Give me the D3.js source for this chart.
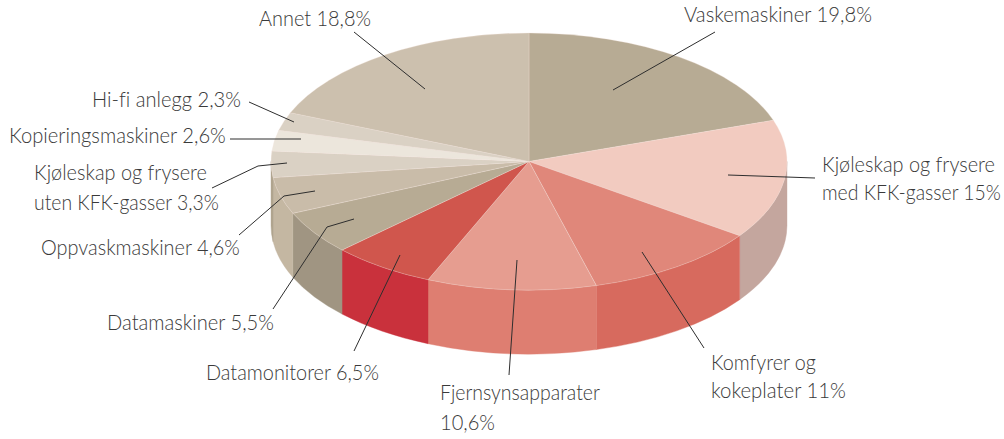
<!DOCTYPE html>
<html><head><meta charset="utf-8">
<script src="https://cdnjs.cloudflare.com/ajax/libs/d3/7.8.5/d3.min.js"></script>
<style>html,body{margin:0;padding:0;background:#fff}svg{display:block}
text{font-family:Lato,"Open Sans",sans-serif;font-weight:300;font-size:21.5px;fill:#3a3a3a;font-variant-ligatures:none}</style>
</head><body><svg id="c" width="1004" height="439"></svg>
<script>
const categories=["Vaskemaskiner","Kjøleskap og frysere med KFK-gasser","Komfyrer og kokeplater","Fjernsynsapparater","Datamonitorer","Datamaskiner","Oppvaskmaskiner","Kjøleskap og frysere uten KFK-gasser","Kopieringsmaskiner","Hi-fi anlegg","Annet"];
const values=[19.8,15,11,10.6,6.5,5.5,4.6,3.3,2.6,2.3,18.8];
const topColors=["#b7ab94","#f2cbc0","#e0877a","#e69d90","#d0564d","#b7ab94","#c9bca9","#dad1c4","#ece6dc","#dad1c4","#ccc0ae"];
const wallColors=["#a09582","#c4a69e","#d76a5e","#de7e71","#c9313c","#a09582","#c4b7a2","#b0a58f","#b0a58f","#b0a58f","#b0a58f"];
const labelLines=[
 [["Vaskemaskiner 19,8%",684,22,188]],
 [["Kjøleskap og frysere",822,172,173],["med KFK-gasser 15%",822,200,179]],
 [["Komfyrer og",711,370,105],["kokeplater 11%",711,398,135]],
 [["Fjernsynsapparater",440,400,160],["10,6%",440,430,55]],
 [["Datamonitorer 6,5%",206,380,173]],
 [["Datamaskiner 5,5%",107,330,167]],
 [["Oppvaskmaskiner 4,6%",41,255,199]],
 [["Kjøleskap og frysere",34,180,173],["uten KFK-gasser 3,3%",34,210,185]],
 [["Kopieringsmaskiner 2,6%",9,143,217]],
 [["Hi-fi anlegg 2,3%",92,107,149]],
 [["Annet 18,8%",259,26,112]]
];
const leaders=[
 [[715,32],[613,90]],
 [[728,175],[815,178]],
 [[642,252],[704,348]],
 [[517,260],[509,375]],
 [[400,255],[354,351]],
 [[354,219],[327,227],[273,309]],
 [[315,191],[284,196],[239,235]],
 [[287,163],[258,166],[212,188]],
 [[301,139],[230,139]],
 [[294,122],[249,102]],
 [[354,32],[425,89]]
];
const cx=529,cy=161.5,rx=258,ry=128.5,depth=64;
const svg=d3.select("#c");
const pie=d3.pie().sort(null).value(d=>d);
const arcs=pie(values);
const px=t=>cx+rx*Math.sin(t), py=t=>cy-ry*Math.cos(t);
// walls: only the front half of the ellipse is visible
const wall=svg.append("g");
arcs.forEach((a,i)=>{
  const s=Math.max(a.startAngle,Math.PI/2), e=Math.min(a.endAngle,3*Math.PI/2);
  if(e<=s) return;
  const d=`M${px(s)},${py(s)}A${rx},${ry} 0 0 1 ${px(e)},${py(e)}L${px(e)},${py(e)+depth}A${rx},${ry} 0 0 0 ${px(s)},${py(s)+depth}Z`;
  wall.append("path").attr("d",d).attr("fill",wallColors[i]).attr("stroke",wallColors[i]).attr("stroke-width",0.4);
});
// top face: d3.arc in a flattened group
const arc=d3.arc().innerRadius(0).outerRadius(rx);
svg.append("g").attr("transform",`translate(${cx},${cy}) scale(1,${ry/rx})`)
 .selectAll("path").data(arcs).join("path")
 .attr("d",arc).attr("fill",(d,i)=>topColors[i])
 .attr("stroke","#f3e4dc").attr("stroke-opacity",.55).attr("stroke-width",0.7);
// leader lines
const line=d3.line();
svg.append("g").selectAll("path").data(leaders).join("path")
 .attr("d",line).attr("fill","none").attr("stroke","#2e2e2e").attr("stroke-width",1);
// labels: condensed horizontally to the measured width of the reference text
svg.append("g").selectAll("text").data(labelLines.flat()).join("text")
 .text(d=>d[0])
 .attr("transform",function(d){
   const k=d[3]/this.getComputedTextLength();
   return `translate(${d[1]},${d[2]}) scale(${k},1)`;
 });
</script></body></html>
